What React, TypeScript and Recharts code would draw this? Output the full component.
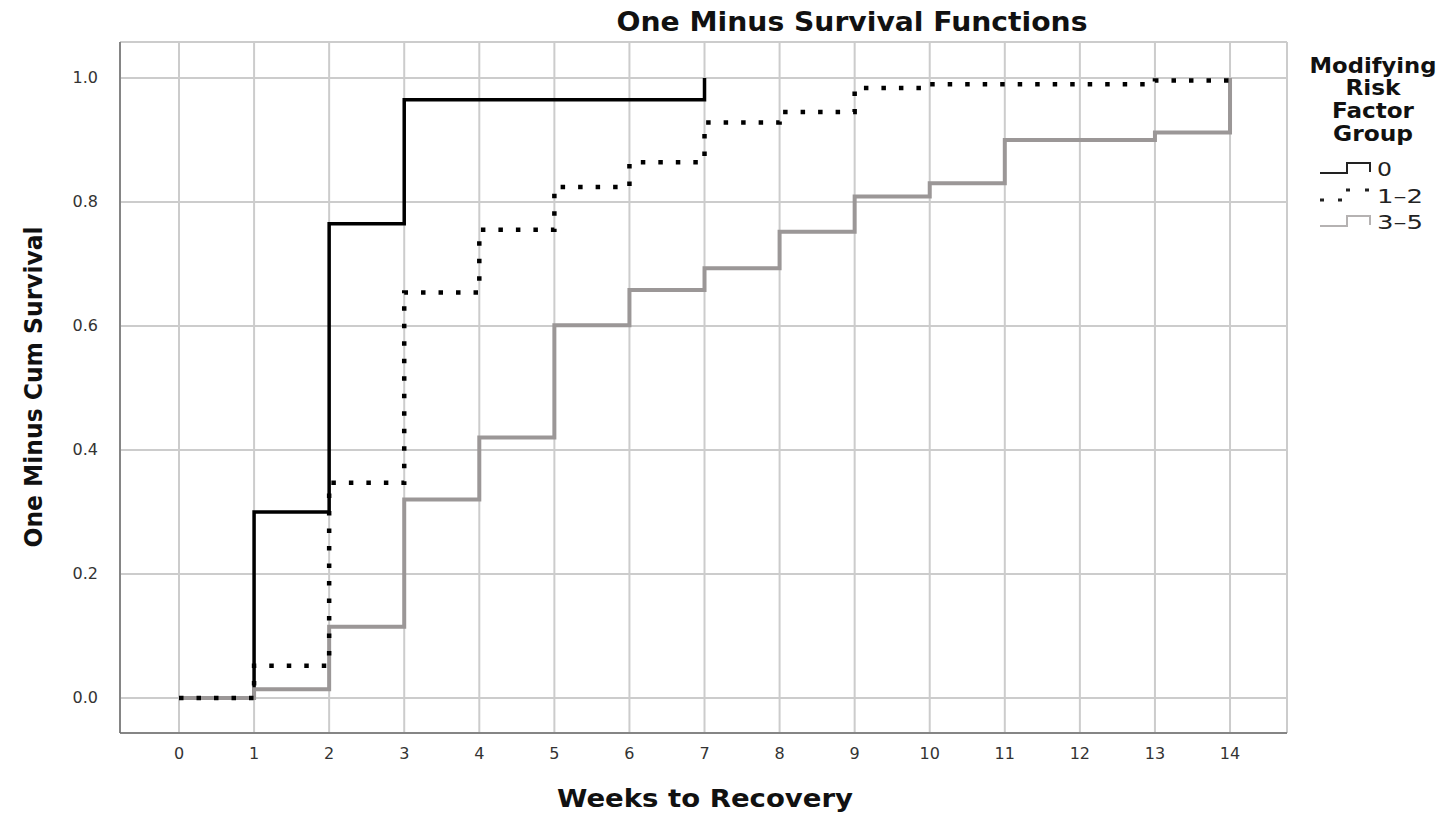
import { LineChart, Line, XAxis, YAxis, CartesianGrid, Legend } from "recharts";

const weeks = [0, 1, 2, 3, 4, 5, 6, 7, 8, 9, 10, 11, 12, 13, 14];
// one minus cum survival (group 0 stops at week 7)
const group0 = [0, 0.3, 0.765, 0.965, 0.965, 0.965, 0.965, 1.0];
const group12 = [0, 0.052, 0.347, 0.654, 0.755, 0.824, 0.864, 0.928, 0.945, 0.984, 0.99, 0.99, 0.99, 0.996, 0.996];
const group35 = [0, 0.014, 0.115, 0.32, 0.42, 0.601, 0.658, 0.693, 0.752, 0.809, 0.83, 0.9, 0.9, 0.912, 1.0];

const yTicks = [0, 0.2, 0.4, 0.6, 0.8, 1.0];
const groupLabels = ["0", "1–2", "3–5"];

const data = weeks.map((w, i) => ({
  week: w,
  g0: group0[i],
  g12: group12[i],
  g35: group35[i],
}));

const GREY = "#9b9797";
const FONT = "'DejaVu Sans', sans-serif";

const XTick = (props: any) => {
  const { x, y, payload } = props;
  return (
    <text x={x} y={y + 26} textAnchor="middle" fontSize={16} fill="#333" fontFamily={FONT}>
      {payload.value}
    </text>
  );
};

const YTick = (props: any) => {
  const { x, y, payload } = props;
  return (
    <text x={x - 22} y={y + 5} textAnchor="end" fontSize={16} fill="#333" fontFamily={FONT}>
      {Number(payload.value).toFixed(1)}
    </text>
  );
};

const LegendBox = () => {
  const titleLines = [
    { t: "Modifying", y: 23, w: 127 },
    { t: "Risk", y: 45, w: 55 },
    { t: "Factor", y: 68, w: 82 },
    { t: "Group", y: 91, w: 80 },
  ];
  const rows = [119, 146, 172];
  const widths = [15, 46, 46];
  return (
    <svg width={153} height={200} style={{ display: "block" }}>
      {titleLines.map((l) => (
        <text
          key={l.t}
          x={83}
          y={l.y}
          textAnchor="middle"
          fontSize={21}
          fontWeight="bold"
          fontFamily={FONT}
          textLength={l.w}
          lengthAdjust="spacingAndGlyphs"
          fill="#111"
        >
          {l.t}
        </text>
      ))}
      {/* 0 : solid black step */}
      <path d={`M30,${rows[0] + 4} H57 V${rows[0] - 6} H80 V${rows[0] + 3}`} fill="none" stroke="#222" strokeWidth={2} />
      {/* 1-2 : dotted */}
      {[
        [32, rows[1] + 4],
        [50, rows[1] + 4],
        [58, rows[1] - 6],
        [77, rows[1] - 6],
      ].map(([x, y], i) => (
        <rect key={i} x={x - 2} y={y - 1.5} width={4} height={3} fill="#222" />
      ))}
      {/* 3-5 : grey step */}
      <path d={`M30,${rows[2] + 4} H57 V${rows[2] - 6} H80 V${rows[2] + 3}`} fill="none" stroke="#b5b2b2" strokeWidth={2} />
      {groupLabels.map((g, i) => (
        <text
          key={g}
          x={87}
          y={rows[i] + 7}
          fontSize={20}
          fontFamily={FONT}
          textLength={widths[i]}
          lengthAdjust="spacingAndGlyphs"
          fill="#222"
        >
          {g}
        </text>
      ))}
    </svg>
  );
};

export default function App() {
  return (
    <div style={{ position: "absolute", left: 0, top: 0, width: 1443, height: 816, background: "#fff" }}>
      <LineChart width={1443} height={816} data={data} margin={{ top: 42, right: 156, bottom: 53, left: 60 }}>
        <CartesianGrid stroke="#cccccc" strokeWidth={2} />
        <XAxis
          dataKey="week"
          type="number"
          domain={[-0.786, 14.759]}
          ticks={weeks}
          allowDataOverflow
          height={30}
          tickSize={0}
          tickMargin={0}
          tick={<XTick />}
          axisLine={{ stroke: "#6e6e6e", strokeWidth: 1.5 }}
        />
        <YAxis
          type="number"
          domain={[-0.0565, 1.058]}
          ticks={yTicks}
          allowDataOverflow
          width={60}
          tickSize={0}
          tickMargin={0}
          tick={<YTick />}
          axisLine={{ stroke: "#6e6e6e", strokeWidth: 1.5 }}
        />
        <Line type="stepAfter" dataKey="g0" name="0" stroke="#000" strokeWidth={3.5} dot={false} isAnimationActive={false} />
        <Line type="stepAfter" dataKey="g35" name="3–5" stroke={GREY} strokeWidth={4} dot={false} isAnimationActive={false} />
        <Line
          type="stepAfter"
          dataKey="g12"
          name="1–2"
          stroke="#000"
          strokeWidth={4.5}
          strokeDasharray="4.5 13"
          dot={false}
          isAnimationActive={false}
        />
        <Legend
          layout="horizontal"
          verticalAlign="middle"
          align="center"
          content={<LegendBox />}
          wrapperStyle={{ position: "absolute", left: 1290, top: 50, width: 153, height: 200 }}
        />
        <text
          x={852}
          y={31}
          textAnchor="middle"
          fontSize={26}
          fontWeight="bold"
          fontFamily={FONT}
          textLength={471}
          lengthAdjust="spacingAndGlyphs"
          fill="#111"
        >
          One Minus Survival Functions
        </text>
        <text
          x={705}
          y={807}
          textAnchor="middle"
          fontSize={24}
          fontWeight="bold"
          fontFamily={FONT}
          textLength={296}
          lengthAdjust="spacingAndGlyphs"
          fill="#111"
        >
          Weeks to Recovery
        </text>
        <text
          transform="rotate(-90)"
          x={-387}
          y={42}
          textAnchor="middle"
          fontSize={24}
          fontWeight="bold"
          fontFamily={FONT}
          textLength={321}
          lengthAdjust="spacingAndGlyphs"
          fill="#111"
        >
          One Minus Cum Survival
        </text>
      </LineChart>
    </div>
  );
}
